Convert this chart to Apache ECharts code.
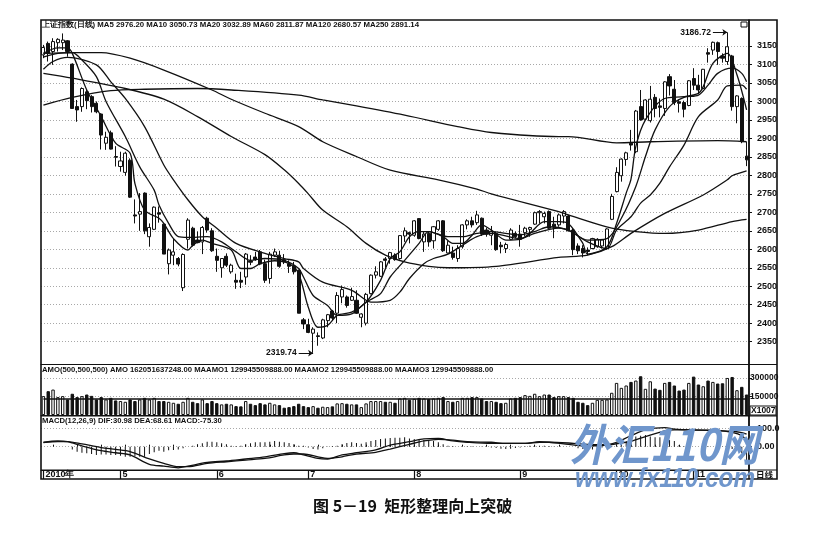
<!DOCTYPE html>
<html><head><meta charset="utf-8">
<style>html,body{margin:0;padding:0;background:#fff}#c{width:815px;height:535px}</style>
<script src="https://cdn.jsdelivr.net/npm/echarts@6/dist/echarts.min.js"></script>
</head><body><div id="c"></div>
<script>
// [open, close, low, high]
const candles = [
[3126,3146,3117,3153],[3157,3130,3108,3162],[3135,3162,3099,3171],[3159,3168,3135,3171],[3159,3166,3139,3184],[3164,3135,3121,3166],[3101,2981,2980,3103],[2986,2977,2945,3004],[2986,3035,2972,3038],[3026,3002,2979,3031],
[3013,2986,2970,3017],[2995,2972,2968,3000],[2966,2909,2870,2968],[2887,2903,2869,2918],[2915,2871,2870,2921],[2851,2849,2824,2879],[2824,2839,2810,2864],[2808,2860,2799,2864],[2841,2741,2739,2846],[2693,2690,2670,2735],
[2695,2702,2650,2752],[2752,2650,2641,2754],[2634,2659,2607,2670],[2654,2714,2652,2716],[2699,2695,2672,2716],[2668,2587,2587,2670],[2561,2598,2532,2602],[2584,2593,2557,2629],[2575,2560,2554,2579],[2496,2586,2487,2589],
[2627,2679,2602,2684],[2657,2611,2607,2661],[2625,2618,2616,2648],[2620,2659,2587,2663],[2684,2652,2645,2688],[2650,2596,2593,2657],[2581,2570,2539,2602],[2550,2575,2523,2575],[2581,2557,2552,2589],[2539,2557,2534,2561],
[2516,2511,2493,2534],[2516,2511,2495,2539],[2525,2587,2504,2590],[2568,2565,2557,2584],[2579,2572,2569,2593],[2593,2560,2557,2598],[2561,2516,2509,2572],[2521,2587,2507,2593],[2584,2593,2579,2602],[2584,2554,2550,2596],
[2572,2566,2560,2587],[2561,2554,2536,2570],[2554,2539,2532,2566],[2543,2427,2427,2545],[2409,2398,2384,2414],[2396,2375,2373,2412],[2373,2384,2319.74,2389],[2366,2364,2339,2375],[2360,2409,2357,2412],[2407,2423,2389,2425],
[2433,2414,2407,2436],[2427,2475,2400,2484],[2471,2491,2454,2502],[2471,2448,2442,2475],[2462,2472,2460,2496],[2462,2427,2425,2489],[2416,2425,2389,2427],[2400,2478,2394,2482],[2480,2530,2478,2532],[2530,2539,2521,2554],
[2527,2566,2525,2568],[2574,2570,2550,2579],[2575,2591,2561,2593],[2584,2572,2569,2589],[2575,2637,2572,2638],[2636,2650,2620,2659],[2645,2641,2616,2648],[2638,2677,2634,2679],[2683,2629,2627,2684],[2620,2641,2593,2648],
[2643,2620,2607,2648],[2623,2661,2602,2663],[2654,2677,2650,2679],[2677,2596,2593,2679],[2590,2611,2589,2622],[2590,2578,2572,2607],[2575,2602,2566,2611],[2607,2666,2602,2668],[2666,2677,2654,2681],[2677,2666,2659,2688],
[2672,2693,2666,2704],[2684,2641,2636,2686],[2652,2641,2634,2659],[2638,2649,2611,2663],[2643,2599,2596,2648],[2611,2607,2589,2620],[2602,2613,2590,2618],[2627,2652,2625,2657],[2643,2634,2630,2648],[2641,2627,2607,2666],
[2645,2657,2636,2661],[2654,2659,2634,2661],[2668,2699,2666,2702],[2699,2702,2670,2706],[2688,2697,2670,2702],[2702,2657,2654,2705],[2668,2661,2630,2688],[2666,2693,2661,2697],[2690,2702,2670,2706],[2690,2650,2648,2693],
[2652,2599,2584,2657],[2609,2596,2587,2616],[2602,2590,2578,2611],[2598,2594,2584,2605],[2602,2629,2600,2631],[2607,2627,2604,2630],[2609,2625,2602,2627],[2602,2655,2599,2657],[2681,2743,2679,2750],[2756,2808,2754,2822],
[2799,2844,2783,2846],[2843,2861,2826,2864],[2887,2882,2867,2923],[2864,2974,2860,2977],[2986,2950,2948,3031],[2952,3004,2950,3006],[2948,3006,2943,3042],[3011,2981,2957,3020],[2988,2984,2957,3008],[2981,3053,2961,3055],
[3067,3042,3016,3074],[3033,2997,2990,3058],[2999,2995,2970,3006],[2997,2979,2957,3002],[2989,3056,2987,3058],[3062,3044,3031,3090],[3044,3031,3020,3072],[3035,3087,3033,3088],[3132,3128,3105,3144],[3139,3160,3126,3162],
[3159,3135,3099,3162],[3123,3117,3105,3130],[3108,3148,3099,3186.72],[3123,2986,2975,3126],[2986,3015,2941,3017],[3008,2891,2887,3011],[2852,2842,2825,2891]
];
// moving averages: [day index, value]
const ma5 = [[0,3130],[3,3145],[5,3145],[6,3130],[9,3031],[12,2959],[15,2887],[18,2860],[19,2778],[21,2706],[24,2684],[25,2670],[27,2629],[30,2598],[31,2611],[33,2625],[35,2616],[39,2598],[41,2548],[43,2548],[45,2561],[48,2569],[51,2561],[53,2534],[55,2443],[57,2389],[59,2394],[61,2421],[64,2430],[67,2457],[70,2516],[72,2575],[74,2593],[76,2634],[78,2648],[80,2648],[83,2634],[85,2616],[87,2616],[89,2638],[91,2666],[93,2652],[96,2625],[99,2627],[101,2643],[104,2675],[107,2675],[109,2670],[112,2616],[113,2587],[117,2607],[119,2670],[121,2752],[122,2790],[123,2878],[125,2950],[129,3008],[133,3013],[136,3022],[137,3040],[139,3103],[142,3130],[144,3072],[146,2977]];
const ma10 = [[0,3120],[3,3130],[6,3132],[8,3112],[11,3067],[13,3000],[17,2905],[20,2823],[23,2760],[24,2720],[26,2670],[28,2634],[30,2632],[34,2634],[37,2620],[40,2593],[43,2570],[46,2575],[50,2570],[53,2548],[54,2525],[56,2475],[59,2448],[61,2421],[64,2425],[67,2457],[70,2480],[72,2525],[75,2570],[78,2616],[80,2648],[84,2634],[87,2634],[90,2643],[93,2648],[96,2643],[99,2639],[102,2648],[105,2661],[109,2652],[113,2625],[117,2629],[120,2684],[123,2770],[125,2851],[127,2923],[130,2986],[133,3011],[136,3017],[138,3044],[140,3076],[143,3090],[145,3076],[146,3053]];
const ma20 = [[0,3087],[2,3108],[5,3119],[11,3099],[14,3053],[17,3008],[21,2932],[25,2828],[27,2788],[30,2734],[33,2688],[36,2657],[40,2616],[46,2589],[50,2575],[53,2566],[54,2548],[58,2511],[64,2489],[67,2462],[68,2457],[72,2462],[74,2484],[76,2521],[79,2561],[81,2575],[84,2587],[87,2611],[90,2634],[93,2643],[95,2639],[99,2629],[102,2643],[107,2657],[109,2652],[113,2620],[117,2602],[119,2652],[122,2688],[124,2725],[126,2747],[128,2779],[130,2823],[133,2882],[136,2959],[140,3004],[142,3042],[145,3044],[146,3033]];
const ma60 = [[0,3076],[6,3063],[17,3035],[25,3006],[32,2959],[39,2905],[46,2856],[50,2815],[53,2778],[55,2750],[58,2706],[63,2661],[67,2616],[71,2584],[75,2566],[80,2554],[84,2550],[94,2554],[107,2578],[113,2584],[118,2607],[122,2643],[129,2697],[137,2747],[142,2788],[143,2799],[146,2812]];
const ma120 = [[0,3130],[6,3132],[12,3132],[18,3117],[25,3085],[35,3031],[39,3006],[46,2968],[53,2932],[58,2891],[65,2851],[72,2814],[82,2788],[90,2763],[93,2750],[107,2702],[109,2693],[118,2657],[123,2648],[129,2643],[136,2652],[143,2675],[146,2681]];
const ma250 = [[0,2990],[6,3011],[14,3029],[21,3033],[32,3035],[39,3031],[53,3017],[58,3004],[65,2988],[75,2963],[86,2932],[93,2916],[107,2905],[109,2905],[119,2888],[126,2891],[140,2894],[146,2891]];
const volumes = [
153000,193000,206000,145000,153000,126000,172000,145000,153000,166000,155000,126000,145000,126000,139000,118000,113000,107000,126000,113000,126000,139000,126000,139000,113000,113000,107000,99000,91000,107000,139000,107000,96000,126000,96000,113000,96000,86000,91000,86000,72000,70000,113000,91000,80000,96000,86000,99000,86000,80000,59000,64000,72000,91000,
72000,64000,72000,59000,67000,64000,70000,94000,96000,91000,86000,86000,64000,94000,113000,113000,113000,107000,107000,99000,134000,139000,123000,131000,139000,134000,129000,134000,139000,145000,113000,107000,113000,139000,139000,145000,145000,134000,113000,113000,107000,96000,99000,134000,139000,145000,161000,155000,172000,153000,166000,166000,145000,153000,
153000,145000,139000,107000,99000,80000,99000,123000,123000,126000,180000,260000,220000,239000,268000,279000,314000,212000,273000,214000,204000,260000,268000,239000,198000,206000,260000,311000,247000,233000,279000,268000,255000,257000,300000,308000,201000,228000,166000];
const volumeAverage = [[0,129945.5],[146,129945.5]];
const macdBars = [0,0,0,0,0,0,-15,-27,-33,-36,-40,-45,-42,-42,-45,-45,-49,-55,-55,-51,-55,-55,-40,-31,-22,-27,-20,-18,-15,-9,0,5,13,18,27,27,24,18,13,5,4,5,13,18,24,24,24,27,31,27,24,20,13,5,
5,-5,-13,-16,-9,-2,4,5,13,20,24,20,16,24,31,36,42,45,47,49,49,51,45,42,40,36,33,31,24,13,5,4,0,0,2,2,0,-2,-2,-4,-7,-11,-13,-11,-7,-4,2,5,5,5,5,4,-2,0,
0,0,0,-9,-13,-15,-16,-13,-5,2,5,13,18,31,42,55,60,64,56,51,51,40,36,31,9,2,2,0,0,2,2,0,2,-2,-4,-13,-18,-36,-75.3];
const dif = [[0,24],[3,31],[5,27],[8,4],[12,-22],[15,-33],[18,-45],[22,-96],[25,-106],[28,-115],[30,-106],[34,-86],[38,-78],[42,-67],[46,-56],[50,-38],[52,-33],[54,-45],[57,-64],[59,-67],[62,-45],[65,-33],[69,-18],[72,9],[76,27],[79,42],[82,45],[85,31],[88,24],[93,18],[96,18],[100,18],[103,27],[105,24],[109,13],[112,5],[115,5],[117,9],[119,24],[122,60],[125,91],[129,104],[131,96],[134,91],[140,89],[143,78],[145,60],[146,30.98]];
const dea = [[0,22],[3,28],[5,28],[8,15],[12,-5],[15,-15],[18,-27],[22,-67],[25,-91],[28,-109],[30,-109],[34,-91],[38,-82],[42,-73],[46,-64],[50,-45],[52,-40],[54,-40],[57,-55],[59,-64],[62,-55],[65,-40],[69,-31],[72,-13],[76,13],[79,31],[82,40],[85,36],[88,27],[93,24],[96,18],[100,18],[103,24],[105,24],[109,20],[112,14],[115,11],[117,11],[119,16],[122,29],[125,55],[129,86],[131,91],[134,91],[140,87],[143,84],[145,76],[146,68.61]];
const monthLabels = {0:'2010年',16:'5',36:'6',55:'7',77:'8',99:'9',119:'10',135:'11'};
const priceTicks = [2350,2400,2450,2500,2550,2600,2650,2700,2750,2800,2850,2900,2950,3000,3050,3100,3150];
const volumeTicks = [150000,300000];
const macdTicks = [0,100];
const headerMain = '上证指数(日线) MA5 2976.20 MA10 3050.73 MA20 3032.89 MA60 2811.87 MA120 2680.57 MA250 2891.14';
const headerVol = 'AMO(500,500,500) AMO 162051637248.00 MAAMO1 129945509888.00 MAAMO2 129945509888.00 MAAMO3 129945509888.00';
const headerMacd = 'MACD(12,26,9) DIF:30.98 DEA:68.61 MACD:-75.30';
const caption = '图 5－19  矩形整理向上突破';

const days = candles.map((c,i)=>String(i));
const isUp = i => candles[i][1] >= candles[i][0];
const black='#111';
const FONT='"Liberation Sans",Arial,sans-serif';
const gridL=41, gridW=708;
const dotted={show:true,lineStyle:{color:'#a8a8a8',type:[1,2],width:1}};
const priceMin=3150-318/0.3696, priceMax=3150+26/0.3696;

function yAxis(idx,min,max,ticks,fs,margin,fmt){return {
  type:'value',gridIndex:idx,position:'right',min,max,scale:false,
  axisLine:{show:true,onZero:false,lineStyle:{color:black,width:1.5}},
  axisTick:{show:true,length:3,lineStyle:{color:black},customValues:ticks},
  axisLabel:{color:black,fontFamily:FONT,fontWeight:'bold',fontSize:fs,margin,customValues:ticks,formatter:fmt||(v=>String(v)),showMinLabel:true,showMaxLabel:true},
  splitLine:dotted
}}
function xAxis(idx,extra){return Object.assign({
  type:'category',gridIndex:idx,data:days,boundaryGap:true,
  axisLine:{show:true,onZero:false,lineStyle:{color:black,width:1}},
  axisTick:{show:false},axisLabel:{show:false},splitLine:{show:false}},extra||{})}
function line(data,xi,yi,w){return {type:'line',data,xAxisIndex:xi,yAxisIndex:yi,showSymbol:false,symbol:'none',smooth:0.3,lineStyle:{color:black,width:w||1.3},z:5,silent:true,clip:false}}

const option={
  animation:false,backgroundColor:'#fff',
  grid:[
    {left:gridL,width:gridW,top:20,height:344},
    {left:gridL,width:gridW,top:365,height:50},
    {left:gridL,width:gridW,top:416,height:54}
  ],
  xAxis:[
    xAxis(0),xAxis(1),
    xAxis(2,{axisTick:{show:true,length:9,alignWithLabel:true,interval:(i)=>monthLabels[i]!==undefined,lineStyle:{color:black,width:1.2}},
      axisLabel:{show:true,interval:(i)=>monthLabels[i]!==undefined,formatter:(v,i)=>monthLabels[i]||'',align:'left',margin:0,padding:[0,0,0,2],color:black,fontFamily:FONT,fontWeight:'bold',fontSize:9}}),
    xAxis(2,{axisLine:{show:false},axisTick:{show:true,length:2,alignWithLabel:true,interval:(i)=>i%5===2,lineStyle:{color:black}}})
  ],
  yAxis:[
    yAxis(0,priceMin,priceMax,priceTicks,9,8),
    yAxis(1,0,405000,volumeTicks,8.5,1),
    yAxis(2,-127,167,macdTicks,9,8,v=>v===0?'0.00':'100.0')
  ],
  series:[
    {type:'candlestick',xAxisIndex:0,yAxisIndex:0,data:candles,barWidth:3.6,
     itemStyle:{color:'#fff',color0:black,borderColor:black,borderColor0:black,borderWidth:1},z:3,
     markLine:{silent:true,symbol:['none','arrow'],symbolSize:5,precision:2,animation:false,
       lineStyle:{color:black,width:1,type:'solid'},
       label:{show:true,position:'start',color:black,fontFamily:FONT,fontWeight:'bold',fontSize:8.5,distance:2,formatter:p=>p.name},
       data:[
         [{name:'3186.72',coord:[139,3187]},{coord:[142,3187]}],
         [{name:'2319.74',coord:[53,2319]},{coord:[56,2319]}]
       ]}},
    line(ma5,0,0),line(ma10,0,0),line(ma20,0,0),line(ma60,0,0),line(ma120,0,0),line(ma250,0,0),
    {type:'bar',xAxisIndex:1,yAxisIndex:1,barWidth:3.4,clip:false,
     data:volumes.map((v,i)=>({value:v,itemStyle:{color:isUp(i)?'#fff':black,borderColor:black,borderWidth:1}}))},
    line(volumeAverage,1,1,1.4),
    {type:'bar',xAxisIndex:2,yAxisIndex:2,barWidth:1,data:macdBars,itemStyle:{color:black}},
    line(dif,2,2),line(dea,2,2)
  ],
  graphic:[
    {type:'rect',shape:{x:41,y:20,width:736,height:459},style:{fill:null,stroke:black,lineWidth:1.6},z:10,silent:true},
    {type:'line',shape:{x1:41,y1:364.5,x2:777,y2:364.5},style:{stroke:black,lineWidth:1.2},z:10},
    {type:'line',shape:{x1:41,y1:415.8,x2:777,y2:415.8},style:{stroke:black,lineWidth:1.2},z:10},
    {type:'line',shape:{x1:41,y1:470,x2:777,y2:470},style:{stroke:black,lineWidth:1.2},z:10},
    {type:'line',shape:{x1:749,y1:20,x2:749,y2:479},style:{stroke:black,lineWidth:1.4},z:10},
    {type:'text',x:42,y:21,style:{text:headerMain,font:'bold 7.8px '+FONT,fill:black},z:11},
    {type:'text',x:42,y:366,style:{text:headerVol,font:'bold 7.7px '+FONT,fill:black},z:11},
    {type:'text',x:42,y:417,style:{text:headerMacd,font:'bold 7.7px '+FONT,fill:black},z:11},
    {type:'rect',shape:{x:741,y:22,width:6,height:5},style:{fill:'#fff',stroke:black,lineWidth:1},z:11},
    {type:'rect',shape:{x:750,y:406,width:26,height:9},style:{fill:'#fff',stroke:black,lineWidth:1},z:11},
    {type:'text',x:751,y:406.5,style:{text:'X1007',font:'bold 8.5px '+FONT,fill:black},z:12},
    {type:'text',x:756,y:471,style:{text:'日线',font:'bold 8.5px "Noto Sans CJK SC"',fill:black},z:12},
    {type:'text',x:570,y:422,scaleX:0.9,style:{text:'外汇110网',font:'italic bold 44px "Noto Sans CJK SC"',fill:'#6f96cc'},z:20,silent:true},
    {type:'text',x:575,y:465,scaleX:0.87,style:{text:'www.fx110.com',font:'italic bold 28px "Liberation Sans"',fill:'#6f96cc'},z:20,silent:true},
    {type:'text',x:313,y:498,style:{text:caption,font:'bold 16px "Noto Sans CJK SC"',fill:black},z:11}
  ]
};
const chart=echarts.init(document.getElementById('c'),null,{renderer:'canvas'});
chart.setOption(option);
</script></body></html>
